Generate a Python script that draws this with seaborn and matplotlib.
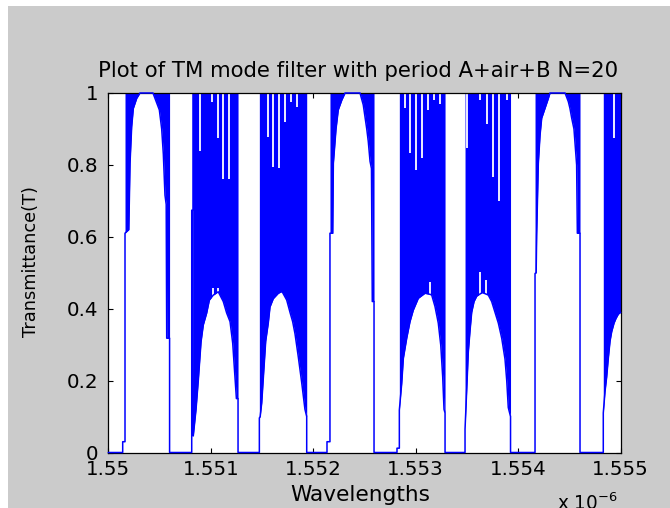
import numpy as np
import matplotlib
matplotlib.use("Agg")
import matplotlib.pyplot as plt
import seaborn as sns
from matplotlib.patches import Rectangle

# ---------------- data (wavelength in micrometres, transmittance) ----------------
x_ticks = [1.550, 1.551, 1.552, 1.553, 1.554, 1.555]
x_tick_labels = ["1.55", "1.551", "1.552", "1.553", "1.554", "1.555"]
y_ticks = [0, 0.2, 0.4, 0.6, 0.8, 1.0]
y_tick_labels = ["0", "0.2", "0.4", "0.6", "0.8", "1"]

# lower envelope of each pass band (the trace oscillates between this and 1)
band1_wl = [1.550163, 1.550200, 1.550212, 1.550228, 1.550244, 1.550277, 1.550309, 1.550436,
            1.550498, 1.550521, 1.550537, 1.550553, 1.550565, 1.550570, 1.550598]
band1_T = [0.61, 0.62, 0.805, 0.906, 0.957, 0.985, 1.0, 1.0, 0.953, 0.90, 0.83, 0.716, 0.69, 0.318, 0.318]

band2_wl = [1.550814, 1.550827, 1.550829, 1.550856, 1.550878, 1.550905, 1.550927, 1.550960, 1.550986,
            1.551025, 1.551073, 1.551122, 1.551155, 1.551188, 1.551214, 1.551236, 1.551250, 1.551266]
band2_T = [0.674, 0.674, 0.046, 0.12, 0.20, 0.308, 0.355, 0.388, 0.424, 0.438, 0.447, 0.42, 0.388,
           0.364, 0.304, 0.207, 0.15, 0.15]

band3_wl = [1.551474, 1.551482, 1.551497, 1.551513, 1.551536, 1.551561, 1.551578, 1.551610, 1.551659,
            1.551695, 1.551741, 1.551773, 1.551799, 1.551822, 1.551854, 1.551887, 1.551919, 1.551936]
band3_T = [0.096, 0.10, 0.138, 0.21, 0.31, 0.36, 0.405, 0.428, 0.443, 0.448, 0.424, 0.39, 0.364,
           0.33, 0.266, 0.195, 0.12, 0.10]

band4_wl = [1.552163, 1.552190, 1.552196, 1.552222, 1.552244, 1.552278, 1.552310, 1.552456, 1.552488,
            1.552522, 1.552537, 1.552554, 1.552568, 1.552576, 1.552593]
band4_T = [0.61, 0.61, 0.804, 0.90, 0.953, 0.98, 1.0, 1.0, 0.967, 0.90, 0.865, 0.81, 0.79, 0.42, 0.42]

band5_wl = [1.552840, 1.552863, 1.552879, 1.552912, 1.552944, 1.552976, 1.553025, 1.553090, 1.553139,
            1.553156, 1.553188, 1.553220, 1.553244, 1.553263, 1.553276, 1.553286]
band5_T = [0.118, 0.192, 0.262, 0.318, 0.364, 0.396, 0.429, 0.443, 0.44, 0.438, 0.406, 0.36, 0.299,
           0.211, 0.12, 0.11]

band6_wl = [1.553481, 1.553497, 1.553513, 1.553530, 1.553546, 1.553569, 1.553595, 1.553650, 1.553708,
            1.553741, 1.553773, 1.553806, 1.553839, 1.553871, 1.553888, 1.553903, 1.553925]
band6_T = [0.065, 0.17, 0.28, 0.34, 0.39, 0.42, 0.435, 0.445, 0.438, 0.42, 0.39, 0.36, 0.318, 0.26,
           0.20, 0.125, 0.10]

band7_wl = [1.554164, 1.554175, 1.554180, 1.554196, 1.554213, 1.554229, 1.554261, 1.554294, 1.554310,
            1.554457, 1.554489, 1.554505, 1.554522, 1.554544, 1.554564, 1.554570, 1.554577, 1.554603]
band7_T = [0.498, 0.50, 0.605, 0.804, 0.883, 0.93, 0.957, 0.985, 1.0, 1.0, 0.976, 0.957, 0.93, 0.90,
           0.823, 0.80, 0.61, 0.61]

band8_wl = [1.554830, 1.554847, 1.554863, 1.554879, 1.554896, 1.554912, 1.554935, 1.554954, 1.554977, 1.555000]
band8_T = [0.11, 0.17, 0.21, 0.262, 0.31, 0.336, 0.36, 0.373, 0.385, 0.39]

# small steps just before some bands (start wavelength, level)
foot_wl = [1.5501405, None, None, 1.552134, 1.5528171, None, None, None]
foot_T = [0.03, None, None, 0.03, 0.012, None, None, None]

# narrow dips of the upper trace (wavelength, lowest value)
dip_wl = [1.550895, 1.551009, 1.551066, 1.551122, 1.551181, 1.551554, 1.551610, 1.551669, 1.551724,
          1.551783, 1.551838, 1.552892, 1.552948, 1.553007, 1.553061, 1.553120, 1.553175, 1.553234,
          1.553497, 1.553627, 1.553692, 1.553757, 1.553815, 1.553888, 1.554935]
dip_T = [0.84, 0.975, 0.875, 0.76, 0.76, 0.878, 0.795, 0.79, 0.92, 0.975, 0.96, 0.957, 0.832, 0.786,
         0.819, 0.953, 0.98, 0.97, 0.846, 0.98, 0.915, 0.767, 0.70, 0.98, 0.875]

# narrow peaks of the lower trace (wavelength, highest value)
peak_wl = [1.551017, 1.551066, 1.553139, 1.553627, 1.553686]
peak_T = [0.457, 0.457, 0.475, 0.503, 0.48]

bands_wl = [band1_wl, band2_wl, band3_wl, band4_wl, band5_wl, band6_wl, band7_wl, band8_wl]
bands_T = [band1_T, band2_T, band3_T, band4_T, band5_T, band6_T, band7_T, band8_T]

# ---------------- figure ----------------
sns.set_style("ticks")
plt.rcParams["font.family"] = ["DejaVu Sans"]
plt.rcParams["text.color"] = "black"
BLUE = "#0000ff"
W, H = 670, 508

fig = plt.figure(figsize=(W / 100, H / 100), dpi=100)
fig.patch.set_facecolor("white")
fig.patches.append(Rectangle((8 / W, 0), 1, (H - 6) / H, transform=fig.transFigure,
                             facecolor="#cbcbcb", edgecolor="none", zorder=-10))

ax = fig.add_axes([108.3 / W, (H - 452.5) / H, 512.4 / W, 359.5 / H])
ax.set_facecolor("white")

# build lower trace of the curve
tx = [1.550]
ty = [0.0]
for wl, T, fw, ft in zip(bands_wl, bands_T, foot_wl, foot_T):
    if fw is not None:
        tx += [fw, fw, wl[0]]
        ty += [0.0, ft, ft]
    else:
        tx += [wl[0]]
        ty += [0.0]
    tx += wl
    ty += T
    if wl[-1] < 1.555:
        tx += [wl[-1]]
        ty += [0.0]

for wl, T in zip(bands_wl, bands_T):
    ax.fill_between(wl, T, 1.0, color=BLUE, linewidth=0, zorder=2)

sns.lineplot(x=tx, y=ty, sort=False, estimator=None, color=BLUE, linewidth=1.1, ax=ax, zorder=3)
for l in ax.lines:
    l.set_clip_on(False)

ax.vlines(dip_wl, dip_T, 1.0, color="white", linewidth=1.3, zorder=2.5)
ax.vlines(peak_wl, 0.3, peak_T, color="white", linewidth=1.3, zorder=2.5)

ax.set_xlim(1.550, 1.555)
ax.set_ylim(0, 1)
ax.set_xticks(x_ticks)
ax.set_xticklabels(x_tick_labels)
ax.set_yticks(y_ticks)
ax.set_yticklabels(y_tick_labels)
ax.tick_params(direction="in", length=3.6, width=0.8, top=True, right=True,
               labelsize=14.3, colors="black", labelcolor="black")
ax.tick_params(axis="x", pad=5.5)
ax.tick_params(axis="y", pad=7)
for s in ax.spines.values():
    s.set_visible(True)
    s.set_color("black")
    s.set_linewidth(0.9)

title = fig.text(358.5 / W, (H - 77) / H, "Plot of TM mode filter with period A+air+B N=20",
                 ha="center", va="baseline", fontsize=15, color="black")
xlab = fig.text(360 / W, (H - 485) / H, "Wavelengths", ha="center", va="top",
                fontsize=14, color="black")
ylab = fig.text(31 / W, (H - 261.7) / H, "Transmittance(T)", ha="center", va="center",
                rotation=90, fontsize=12, color="black")
expo = fig.text(557 / W, (H - 510) / H, "x 10$^{-6}$", ha="left", va="baseline",
                fontsize=14, color="black")

# fit text sizes to the measured widths in the reference
fig.canvas.draw()
r = fig.canvas.get_renderer()
def fit(t, target, use_height=False):
    bb = t.get_window_extent(r)
    cur = bb.height if use_height else bb.width
    t.set_fontsize(t.get_fontsize() * target / cur)
fit(title, 523)
fit(xlab, 140)
fit(ylab, 150, use_height=True)
fit(expo, 61)

fig.savefig("out.png", dpi=100, facecolor=fig.get_facecolor())
